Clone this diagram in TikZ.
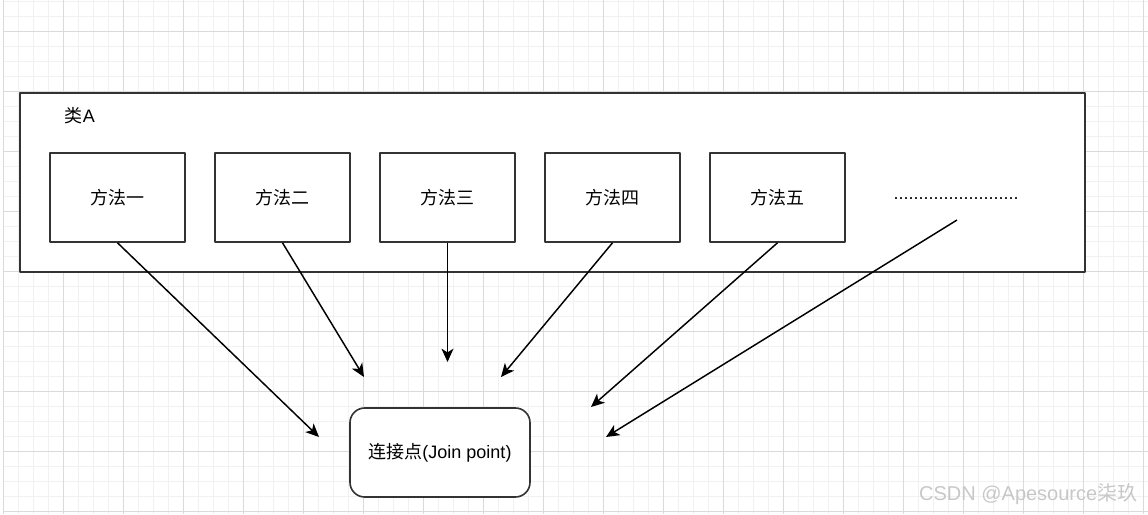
\documentclass[tikz,border=0pt]{standalone}
\usepackage{fontspec}
\setmainfont{Liberation Sans}
\newfontfamily\cjk{Noto Sans CJK SC}
\usetikzlibrary{arrows.meta}
\definecolor{boxline}{HTML}{333333}
\definecolor{gridminor}{HTML}{F1F1F1}
\definecolor{gridmajor}{HTML}{DADADA}
\tikzset{
  minorline/.style={draw=gridminor,line width=0.75pt},
  majorline/.style={draw=gridmajor,line width=0.75pt},
  methodbox/.style={draw=boxline,line width=1.2pt,fill=white,inner sep=0pt,
    minimum width=101.25pt,minimum height=66.75pt},
  txt/.style={font=\fontsize{13.5}{16}\selectfont},
  link/.style={->,line width=1.1pt,black}
}
\begin{document}
\begin{tikzpicture}[x=0.75pt,y=-0.75pt,>={Stealth[length=10pt,width=9pt,inset=2.8pt]},line join=round]
  \def\W{1148} \def\H{514}
  \useasboundingbox (0,0) rectangle (\W,\H);
  % grid
  \foreach \x in {3,18,...,1143} \draw[minorline] (\x,0)--(\x,\H);
  \foreach \y in {1,16,...,511} \draw[minorline] (3,\y)--(\W,\y);
  \foreach \x in {3,63,...,1143} \draw[majorline] (\x,0)--(\x,\H);
  \foreach \y in {31,91,...,511} \draw[majorline] (3,\y)--(\W,\y);

  % class A
  \node[draw=boxline,line width=1.2pt,fill=white,minimum width=798.75pt,minimum height=134.25pt,inner sep=0pt] (clsA) at (552.5,182.5) {};
  \node[txt] (clsAlabel) at (80,116) {{\cjk 类}A};

  \node[methodbox,txt] (m1) at (117.5,197.5) {\cjk 方法一};
  \node[methodbox,txt] (m2) at (282.5,197.5) {\cjk 方法二};
  \node[methodbox,txt] (m3) at (447.5,197.5) {\cjk 方法三};
  \node[methodbox,txt] (m4) at (612.5,197.5) {\cjk 方法四};
  \node[methodbox,txt] (m5) at (777.5,197.5) {\cjk 方法五};
  \node[txt] (dots) at (956,199) {.........................};

  % join point
  \node[draw=boxline,line width=1.2pt,fill=white,rounded corners=11pt,inner sep=0pt,
    minimum width=135pt,minimum height=66.75pt,txt] (jp) at (440,452.5) {{\cjk 连接点}(Join point)};

  \coordinate (s6) at (957,220);
  \coordinate (e1) at (319,437);
  \coordinate (e2) at (364,377);
  \coordinate (e3) at (447.5,362);
  \coordinate (e4) at (501,377);
  \coordinate (e5) at (591,407);
  \coordinate (e6) at (606,437);

  \draw[link] (m1.south) -- (e1);
  \draw[link] (m2.south) -- (e2);
  \draw[link] (m3.south) -- (e3);
  \draw[link] (m4.south) -- (e4);
  \draw[link] (m5.south) -- (e5);
  \draw[link] (s6) -- (e6);

  % watermark
  \node[anchor=east,text=black!22,font=\fontsize{15}{18}\selectfont] (mark) at (1142,494) {CSDN @Apesource{\cjk 柒玖}};
\end{tikzpicture}
\end{document}
